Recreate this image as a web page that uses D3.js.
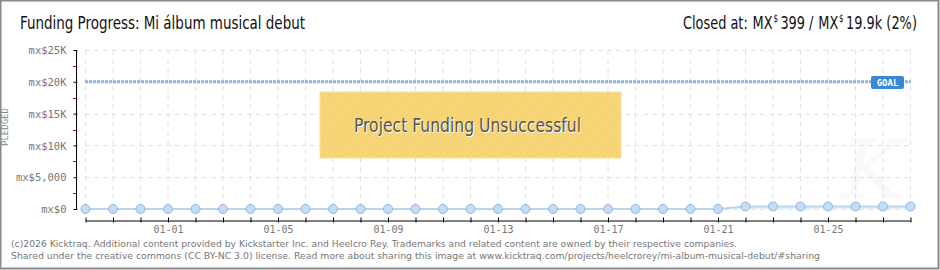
<!DOCTYPE html>
<html><head><meta charset="utf-8">
<script src="https://cdn.jsdelivr.net/npm/d3@7"></script>
<style>
html,body{margin:0;padding:0;background:#fff;}
svg{display:block;}
</style></head>
<body>
<svg id="chart" width="940" height="270"></svg>
<script>
const dates = ["12-29","12-30","12-31","01-01","01-02","01-03","01-04","01-05","01-06","01-07","01-08","01-09","01-10","01-11","01-12","01-13","01-14","01-15","01-16","01-17","01-18","01-19","01-20","01-21","01-22","01-23","01-24","01-25","01-26","01-27","01-28"];
const pledged = [0,0,0,0,0,0,0,0,0,0,0,0,0,0,0,0,0,0,0,0,0,0,0,0,399,399,399,399,399,399,399];
const yTicks = [0,5000,10000,15000,20000,25000];
const yTickLabels = ["mx$0","mx$5,000","mx$10K","mx$15K","mx$20K","mx$25K"];
const xLabelDates = ["01-01","01-05","01-09","01-13","01-17","01-21","01-25"];
const goal = 20000;
const titleText = "Funding Progress: Mi álbum musical debut";
const closedParts = [["Closed at:",false,6],["MX",false,1],["$",true,3],["399 /",false,6],["MX",false,1],["$",true,3],["19.9k (2%)",false,0]];
const footer1 = "(c)2026 Kicktraq. Additional content provided by Kickstarter Inc. and Heelcro Rey. Trademarks and related content are owned by their respective companies.";
const footer2 = "Shared under the creative commons (CC BY-NC 3.0) license. Read more about sharing this image at www.kicktraq.com/projects/heelcrorey/mi-album-musical-debut/#sharing";

const svg = d3.select("#chart");
const narrow = "'DejaVu Sans Condensed','Liberation Sans Narrow',sans-serif";

// border
svg.append("rect").attr("x",0.5).attr("y",0.5).attr("width",938).attr("height",268)
  .attr("fill","#fff").attr("stroke","#8a8a8a").attr("stroke-width",2);

const x = d3.scalePoint().domain(dates).range([85.5,910.5]);
const y = d3.scaleLinear().domain([0,25000]).range([209,50]);

// watermark (faint)
svg.append("text").attr("x",842).attr("y",198).attr("font-family","'DejaVu Serif',serif")
  .attr("font-style","italic").attr("font-size",82).attr("fill","#f9f9f9").text("K");

// grid
const grid = svg.append("g");
grid.selectAll("line.v").data(dates).join("line")
  .attr("x1",d=>x(d)).attr("x2",d=>x(d)).attr("y1",y(25000)).attr("y2",y(0))
  .attr("stroke","#e2e2e2").attr("stroke-dasharray","5,4");
grid.selectAll("line.h").data(yTicks).join("line")
  .attr("x1",85).attr("x2",911).attr("y1",d=>Math.round(y(d))+0.5).attr("y2",d=>Math.round(y(d))+0.5)
  .attr("stroke","#e2e2e2").attr("stroke-dasharray","5,4");

// y axis
const yAxis = d3.axisLeft(y).tickValues(yTicks).tickFormat((d,i)=>yTickLabels[i]).tickSize(4).tickPadding(6);
const gy = svg.append("g").attr("transform","translate(76.5,0)").call(yAxis);
gy.select(".domain").attr("stroke","#000").attr("d","M0,50V209");
gy.selectAll(".tick line").attr("stroke","#000").attr("x2",-4).attr("transform","translate(1,0)");
gy.selectAll(".tick text").attr("fill","#777").attr("font-family","'DejaVu Sans Mono',monospace").attr("font-size",10.5).attr("dy","0.35em");
// minor red ticks
const minor = d3.range(2500,25000,5000);
svg.append("g").selectAll("line").data(minor).join("line")
  .attr("x1",73).attr("x2",76).attr("y1",d=>Math.round(y(d))+0.5).attr("y2",d=>Math.round(y(d))+0.5)
  .attr("stroke","#d00");

// PLEDGED label
svg.append("text").attr("transform","translate(8,127) rotate(-90)").attr("text-anchor","middle")
  .attr("font-family","'DejaVu Sans Mono',monospace").attr("font-size",9).attr("fill","#888").text("PLEDGED");

// x axis
const xAxis = d3.axisBottom(x).tickSize(0).tickFormat(d=>xLabelDates.includes(d)?d:"").tickPadding(5);
const gx = svg.append("g").attr("transform","translate(0,220.5)").call(xAxis);
gx.select(".domain").attr("stroke","#000");
gx.selectAll(".tick line").attr("stroke","#000").attr("y1",-3).attr("y2",2);
gx.selectAll(".tick text").attr("fill","#777").attr("font-family","'DejaVu Sans Mono',monospace").attr("font-size",10);

// goal line
svg.append("line").attr("x1",85).attr("x2",911).attr("y1",y(goal)).attr("y2",y(goal))
  .attr("stroke","#8db2dc").attr("stroke-width",3).attr("stroke-dasharray","3,1");
const gg = svg.append("g");
gg.append("rect").attr("x",871).attr("y",76).attr("width",33).attr("height",13).attr("rx",2)
  .attr("fill","#3a87d6");
gg.append("text").attr("x",887.5).attr("y",86).attr("text-anchor","middle").attr("fill","#fff")
  .attr("font-family","'DejaVu Sans Mono',monospace").attr("font-size",9).attr("font-weight","bold").text("GOAL");

// area + line
const area = d3.area().x((d,i)=>x(dates[i])).y0(y(0)).y1(d=>y(d));
svg.append("path").datum(pledged).attr("d",area).attr("fill","#e8f1fb");
const line = d3.line().x((d,i)=>x(dates[i])).y(d=>y(d));
svg.append("path").datum(pledged).attr("d",line).attr("fill","none").attr("stroke","#bcd5ef").attr("stroke-width",2);
svg.append("g").selectAll("circle").data(pledged).join("circle")
  .attr("cx",(d,i)=>x(dates[i])).attr("cy",d=>y(d)).attr("r",4.5)
  .attr("fill","#c5dcf5").attr("stroke","#93b5dc").attr("stroke-width",1);

// unsuccessful box
const defs = svg.append("defs");
const pat = defs.append("pattern").attr("id","stripes").attr("patternUnits","userSpaceOnUse")
  .attr("width",4).attr("height",4).attr("patternTransform","rotate(45)");
pat.append("rect").attr("width",4).attr("height",4).attr("fill","#f8d779");
pat.append("rect").attr("width",2).attr("height",4).attr("fill","#f5d273");
svg.append("rect").attr("x",320).attr("y",92).attr("width",301).attr("height",66)
  .attr("fill","url(#stripes)").attr("stroke","#fae29a").attr("stroke-width",1);
[["#fff",355,133],["#555",354,132]].forEach(([c,tx,ty])=>{
  svg.append("text").attr("x",tx).attr("y",ty)
    .attr("font-family",narrow).attr("font-size",19).attr("fill",c)
    .attr("textLength",227).attr("lengthAdjust","spacingAndGlyphs").text("Project Funding Unsuccessful");
});

// title
svg.append("text").attr("x",20).attr("y",29).attr("font-family",narrow).attr("font-size",18)
  .attr("fill","#111").attr("textLength",285).attr("lengthAdjust","spacingAndGlyphs").text(titleText);

// closed-at header, laid out piecewise
const hg = svg.append("g");
let cx = 0;
closedParts.forEach(([t,sup,gap])=>{
  const tx = hg.append("text").attr("x",cx).attr("y",sup?-7:0)
    .attr("font-family",narrow).attr("font-size",sup?10:18).attr("fill","#111").text(t);
  cx += tx.node().getComputedTextLength() + gap;
});
const sx = 234/cx;
hg.attr("transform",`translate(683,29) scale(${sx},1)`);

// footer
svg.append("text").attr("x",11).attr("y",247).attr("font-family","'DejaVu Sans',sans-serif")
  .attr("font-size",9.5).attr("fill","#777").attr("textLength",726).attr("lengthAdjust","spacingAndGlyphs").text(footer1);
svg.append("text").attr("x",11).attr("y",259).attr("font-family","'DejaVu Sans',sans-serif")
  .attr("font-size",9.5).attr("fill","#777").attr("textLength",809).attr("lengthAdjust","spacingAndGlyphs").text(footer2);
</script>
</body></html>
